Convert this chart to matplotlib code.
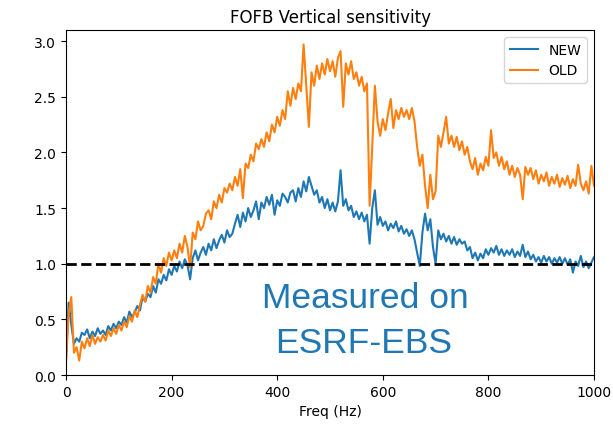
import numpy as np
import matplotlib
matplotlib.use("Agg")
import matplotlib.pyplot as plt

# frequency grid (Hz), 5 Hz step
freq = np.arange(0, 1001, 5)

# NEW sensitivity
new_sens = [
    0.15, 0.65, 0.45, 0.28, 0.33, 0.30, 0.38, 0.36, 0.41, 0.33,
    0.39, 0.35, 0.42, 0.37, 0.40, 0.36, 0.44, 0.40, 0.46, 0.42,
    0.48, 0.45, 0.52, 0.47, 0.57, 0.52, 0.56, 0.62, 0.58, 0.70,
    0.66, 0.73, 0.70, 0.80, 0.74, 0.86, 0.82, 0.90, 0.85, 0.95,
    0.90, 0.98, 0.93, 1.02, 0.96, 1.04, 0.99, 0.86, 1.05, 1.12,
    1.03, 1.10, 1.15, 1.08, 1.18, 1.12, 1.22, 1.14, 1.21, 1.26,
    1.19, 1.30, 1.24, 1.27, 1.36, 1.44, 1.33, 1.46, 1.38, 1.50,
    1.42, 1.48, 1.56, 1.40, 1.55, 1.50, 1.60, 1.53, 1.62, 1.44,
    1.57, 1.52, 1.63, 1.60, 1.55, 1.64, 1.66, 1.56, 1.68, 1.60,
    1.74, 1.65, 1.78, 1.70, 1.62, 1.66, 1.55, 1.60, 1.50, 1.58,
    1.48, 1.55, 1.47, 1.56, 1.84, 1.52, 1.58, 1.48, 1.52, 1.42,
    1.47, 1.40, 1.46, 1.38, 1.44, 1.18, 1.50, 1.66, 1.35, 1.42,
    1.34, 1.38, 1.30, 1.36, 1.32, 1.38, 1.29, 1.34, 1.27, 1.31,
    1.25, 1.30, 1.22, 1.10, 0.98, 1.28, 1.45, 1.30, 1.40, 1.15,
    1.00, 1.30, 1.22, 1.27, 1.20, 1.25, 1.18, 1.24, 1.17, 1.22,
    1.18, 1.20, 1.12, 1.15, 1.05, 1.10, 1.03, 1.09, 1.05, 1.13,
    1.08, 1.14, 1.10, 1.16, 1.08, 1.13, 1.07, 1.12, 1.08, 1.13,
    1.06, 1.11, 1.07, 1.17, 1.06, 1.11, 1.04, 1.08, 1.02, 1.06,
    1.01, 1.07, 1.02, 1.06, 1.00, 1.05, 1.01, 1.06, 1.00, 1.05,
    0.99, 1.04, 0.92, 1.02, 0.98, 1.07, 0.97, 1.02, 0.96, 1.01,
    1.06,
]

# OLD sensitivity
old_sens = [
    0.12, 0.55, 0.70, 0.20, 0.25, 0.13, 0.30, 0.24, 0.33, 0.26,
    0.36, 0.28, 0.34, 0.30, 0.36, 0.31, 0.40, 0.35, 0.42, 0.37,
    0.45, 0.40, 0.48, 0.43, 0.53, 0.48, 0.58, 0.52, 0.63, 0.72,
    0.66, 0.80, 0.74, 0.88, 0.82, 1.00, 0.92, 1.05, 0.98, 1.10,
    1.03, 1.12, 1.05, 1.18, 1.10, 1.25, 1.15, 0.97, 1.28, 1.22,
    1.38, 1.30, 1.34, 1.45, 1.48, 1.40, 1.56, 1.50, 1.62, 1.55,
    1.68, 1.64, 1.72, 1.66, 1.78, 1.70, 1.85, 1.59, 1.90, 1.86,
    1.98, 1.92, 2.08, 2.03, 2.12, 2.05, 2.18, 2.10, 2.25, 2.18,
    2.32, 2.24, 2.38, 2.30, 2.55, 2.42, 2.58, 2.48, 2.62, 2.55,
    2.97, 2.60, 2.23, 2.72, 2.60, 2.78, 2.66, 2.80, 2.70, 2.84,
    2.73, 2.82, 2.68, 2.85, 2.91, 2.41, 2.80, 2.70, 2.82, 2.66,
    2.72, 2.60, 2.68, 2.55, 2.62, 1.52, 2.05, 2.60, 2.28, 2.15,
    2.30, 2.20, 2.35, 2.48, 2.22, 2.38, 2.30, 2.40, 2.32, 2.38,
    2.30, 2.40, 2.28, 2.05, 1.88, 1.98, 1.70, 1.50, 1.80, 1.58,
    1.65, 2.15, 2.05, 2.18, 2.32, 2.08, 2.15, 2.05, 2.14, 2.02,
    2.10, 1.98, 2.05, 1.92, 1.85, 1.95, 1.80, 1.90, 1.84, 1.96,
    1.88, 2.20, 1.95, 2.00, 1.88, 1.96, 1.85, 1.92, 1.80, 1.88,
    1.78, 1.86, 1.80, 1.58, 1.87, 1.80, 1.86, 1.76, 1.84, 1.72,
    1.80, 1.74, 1.82, 1.70, 1.78, 1.72, 1.80, 1.69, 1.77, 1.71,
    1.79, 1.68, 1.76, 1.70, 1.89, 1.72, 1.66, 1.74, 1.63, 1.88,
    1.70,
]

fig = plt.figure(figsize=(6.13, 4.27), dpi=100)
ax = fig.add_axes([0.1077, 0.1194, 0.8613, 0.8079])

ax.plot(freq, new_sens, color='tab:blue', label='NEW')
ax.plot(freq, old_sens, color='tab:orange', label='OLD')
ax.axhline(1.0, color='black', linestyle='--', linewidth=2)

ax.set_xlim(0, 1000)
ax.set_ylim(0, 3.1)
ax.set_xlabel('Freq (Hz)')
ax.set_title('FOFB Vertical sensitivity')
ax.legend(loc='upper right')

# annotation pasted on the figure
ax.text(0.566, 0.224, 'Measured on', transform=ax.transAxes, color='tab:blue',
        fontsize=25.5, family='Liberation Sans', ha='center', va='center')
ax.text(0.563, 0.094, 'ESRF-EBS', transform=ax.transAxes, color='tab:blue',
        fontsize=25.5, family='Liberation Sans', ha='center', va='center')

fig.savefig('out.png', dpi=100)
plt.close(fig)
